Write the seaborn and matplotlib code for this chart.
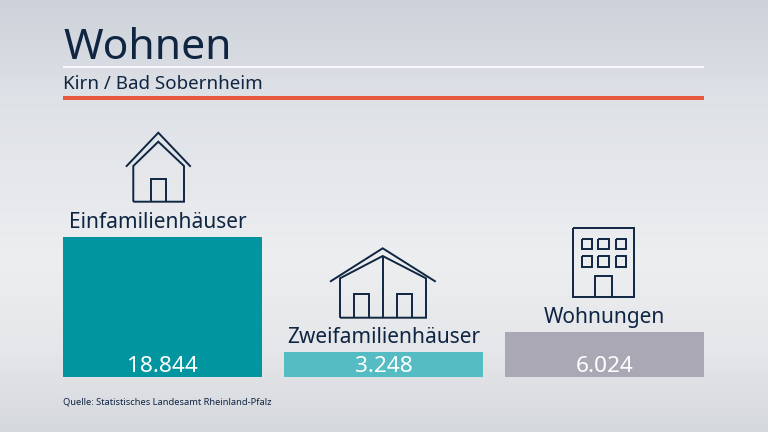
import numpy as np
import pandas as pd
import seaborn as sns
import matplotlib.pyplot as plt
from matplotlib.colors import LinearSegmentedColormap

categories = ['Einfamilienhäuser', 'Zweifamilienhäuser', 'Wohnungen']
values = [18844, 3248, 6024]
bar_colors = ['#00959f', '#54bcc2', '#a9a8b4']
title = 'Wohnen'
subtitle = 'Kirn / Bad Sobernheim'
source = 'Quelle: Statistisches Landesamt Rheinland-Pfalz'

W, H = 768, 432
NAVY = '#0f2542'
sns.set_theme(style='white')
plt.rcParams['font.family'] = ['Noto Sans', 'DejaVu Sans']

fig = plt.figure(figsize=(W / 100, H / 100), dpi=100)

# background gradient
bg = fig.add_axes([0, 0, 1, 1], zorder=0)
cmap = LinearSegmentedColormap.from_list(
    'bg', [(0, '#cdd2da'), (0.22, '#dee1e6'), (0.6, '#eceef0'), (0.82, '#e4e6e9'), (1, '#d5d8dd')])
grad = np.linspace(0, 1, 200).reshape(-1, 1)
bg.imshow(grad, aspect='auto', cmap=cmap, vmin=0, vmax=1, extent=(0, W, H, 0))
bg.set_xlim(0, W)
bg.set_ylim(H, 0)
bg.axis('off')

# bars
ax = fig.add_axes([63 / W, (H - 376.5) / H, 641 / W, 139.5 / H], zorder=1)
data = pd.DataFrame({'category': categories, 'value': values})
sns.barplot(data=data, x='category', y='value', hue='category', palette=bar_colors,
            saturation=1, width=0.9, legend=False, linewidth=0, ax=ax)
ax.set_xlim(-0.45, 2.45)
ax.set_ylim(0, 18844)
ax.axis('off')

for i, (cat, val) in enumerate(zip(categories, values)):
    # first label sits a little left of its bar centre in the original
    shift = -3 if i == 0 else 0
    ax.annotate(cat, (i, val), xytext=(shift, 3), textcoords='offset points', ha='center', va='bottom',
                color=NAVY, fontsize=15, annotation_clip=False)
    ax.annotate(f'{val:,}'.replace(',', '.'), (i, 0), xytext=(0, 7.5), textcoords='offset points',
                ha='center', va='center', color='white', fontsize=16.3, annotation_clip=False)

# pixel overlay for header and icons
ov = fig.add_axes([0, 0, 1, 1], zorder=2)
ov.set_xlim(0, W)
ov.set_ylim(H, 0)
ov.axis('off')
ov.patch.set_alpha(0)

ov.text(63, 59, title, color=NAVY, fontsize=30.7, va='baseline', ha='left')
ov.text(63, 89, subtitle, color=NAVY, fontsize=13.5, va='baseline', ha='left')
ov.text(63, 405, source, color=NAVY, fontsize=6.7, va='baseline', ha='left')
ov.plot([63, 704], [67, 67], color='white', lw=1.2, solid_capstyle='butt')
ov.plot([63, 704], [98, 98], color='#e8583c', lw=2.9, solid_capstyle='butt')


def outline(xs, ys):
    ov.plot(xs, ys, color=NAVY, lw=1.4, solid_joinstyle='miter', solid_capstyle='butt')


# single house
outline([126, 158.3, 190.7], [166.7, 132.7, 166.7])
outline([133.3, 133.3, 158.3, 184, 184, 133.3], [201.7, 166, 141.7, 166, 201.7, 201.7])
outline([150.7, 150.7, 166, 166], [201.7, 179.3, 179.3, 201.7])

# double house
outline([330, 382.7, 435.7], [281.7, 248.3, 281.7])
outline([340, 340, 382.7, 426, 426, 340], [317.7, 278.3, 256, 278.3, 317.7, 317.7])
outline([382.7, 382.7], [256, 317.7])
outline([354, 354, 369, 369], [317.7, 294, 294, 317.7])
outline([396.7, 396.7, 411.7, 411.7], [317.7, 294, 294, 317.7])

# apartment block
outline([572.7, 634.3, 634.3, 572.7, 572.7], [228.3, 228.3, 296.7, 296.7, 228.3])
outline([595, 595, 612.3, 612.3], [296.7, 276, 276, 296.7])
for x0, x1 in [(581.7, 592.3), (598.3, 609), (615.7, 625.7)]:
    for y0, y1 in [(239.3, 249.3), (256, 266.7)]:
        outline([x0, x1, x1, x0, x0], [y0, y0, y1, y1, y0])

fig.savefig('out.png', dpi=100)
